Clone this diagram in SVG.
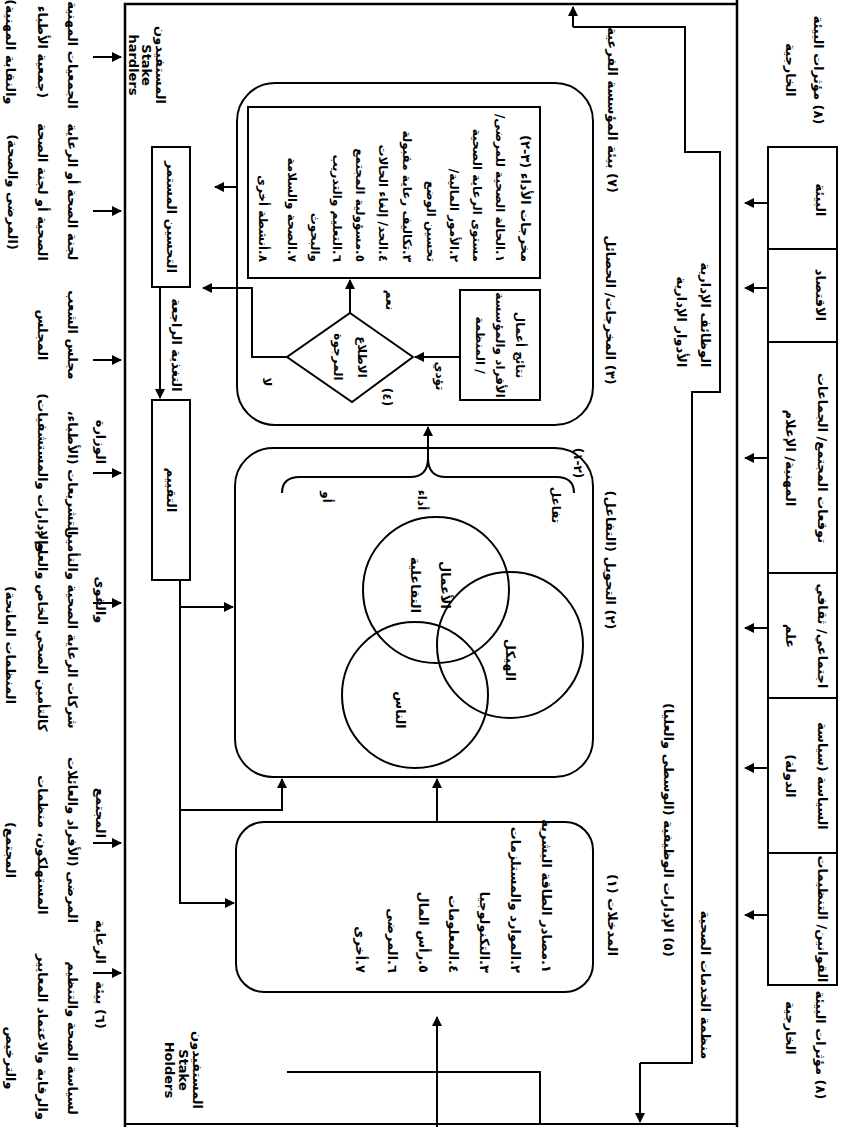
<svg xmlns="http://www.w3.org/2000/svg" width="841" height="1127" viewBox="0 0 841 1127">
<style>
.t{font-family:"DejaVu Sans",sans-serif;font-weight:bold;font-size:13px;fill:#000;dominant-baseline:central;direction:rtl}
.e{direction:ltr}
.s{font-size:12px}
.ln{fill:none;stroke:#000;stroke-width:2}
.th{fill:none;stroke:#000;stroke-width:2.5}
.bx{fill:#fff;stroke:#000;stroke-width:2}
</style>
<defs>
<marker id="ah" viewBox="0 0 10 10" refX="9" refY="5" markerWidth="5" markerHeight="5" orient="auto-start-reverse" markerUnits="strokeWidth">
<path d="M0,0 L10,5 L0,10 z" fill="#000"/>
</marker>
</defs>
<rect width="841" height="1127" fill="#fff"/>

<g id="frame">
<path class="th" d="M125,1127 V4 H737"/>
<path class="th" d="M737,0 V1127"/>
<path class="ln" d="M125,1124 H737"/>
</g>

<g id="external-env">
<rect class="bx" x="768" y="147" width="69" height="838"/>
<path class="ln" d="M768,249 H837 M768,342 H837 M768,573 H837 M768,698 H837 M768,853 H837"/>
<text class="t" transform="translate(818,70) rotate(90)" text-anchor="middle">(٨) مؤثرات البيئة</text>
<text class="t" transform="translate(790,70) rotate(90)" text-anchor="middle">الخارجية</text>
<text class="t" transform="translate(820,1045) rotate(90)" text-anchor="middle">(٨) مؤثرات البيئة</text>
<text class="t" transform="translate(790,1028) rotate(90)" text-anchor="middle">الخارجية</text>
<text class="t" transform="translate(820,200) rotate(90)" text-anchor="middle">البيئة</text>
<text class="t" transform="translate(820,295) rotate(90)" text-anchor="middle">الاقتصاد</text>
<text class="t" transform="translate(822,458) rotate(90)" text-anchor="middle">توقعات المجتمع/ الجماعات</text>
<text class="t" transform="translate(790,458) rotate(90)" text-anchor="middle">المهنية/ الإعلام</text>
<text class="t" transform="translate(822,636) rotate(90)" text-anchor="middle">اجتماعي/ ثقافي</text>
<text class="t" transform="translate(790,636) rotate(90)" text-anchor="middle">علم</text>
<text class="t" transform="translate(822,776) rotate(90)" text-anchor="middle">السياسة (سياسة</text>
<text class="t" transform="translate(790,776) rotate(90)" text-anchor="middle">الدولة)</text>
<text class="t" transform="translate(822,919) rotate(90)" text-anchor="middle">القوانين/ التنظيمات</text>
</g>

<g id="stakeholders">
<text class="t" transform="translate(72,55) rotate(90)" text-anchor="middle">الجمعيات المهنية</text>
<text class="t" transform="translate(42,52) rotate(90)" text-anchor="middle">(جمعية الأطباء</text>
<text class="t" transform="translate(10,52) rotate(90)" text-anchor="middle">والنقابة المهنية)</text>
<text class="t" transform="translate(72,192) rotate(90)" text-anchor="middle">لجنة الصحة أو الرعاية</text>
<text class="t" transform="translate(42,192) rotate(90)" text-anchor="middle">الصحية أو لجنة الصحة</text>
<text class="t" transform="translate(12,192) rotate(90)" text-anchor="middle">(المرضى والصحة)</text>
<text class="t" transform="translate(72,335) rotate(90)" text-anchor="middle">مجلس الشعب</text>
<text class="t" transform="translate(42,335) rotate(90)" text-anchor="middle">المجلس</text>
<text class="t" transform="translate(100,442) rotate(90)" text-anchor="middle">الوزارة</text>
<text class="t" transform="translate(72,473) rotate(90)" text-anchor="middle">التشريعات (الأطباء،</text>
<text class="t" transform="translate(42,473) rotate(90)" text-anchor="middle">والإدارات والمستشفيات)</text>
<text class="t" transform="translate(100,600) rotate(90)" text-anchor="middle">والقوى</text>
<text class="t" transform="translate(72,628) rotate(90)" text-anchor="middle">شركات الرعاية الصحية والتأمين</text>
<text class="t" transform="translate(42,631) rotate(90)" text-anchor="middle">كالتأمين الصحي الخاص والعام -</text>
<text class="t" transform="translate(10,645) rotate(90)" text-anchor="middle">المنظمات المانحة)</text>
<text class="t" transform="translate(100,813) rotate(90)" text-anchor="middle">المجتمع</text>
<text class="t" transform="translate(72,840) rotate(90)" text-anchor="middle">المرضى (الأفراد والعائلات</text>
<text class="t" transform="translate(42,845) rotate(90)" text-anchor="middle">المستهلكون، منظمات</text>
<text class="t" transform="translate(10,850) rotate(90)" text-anchor="middle">المجتمع)</text>
<text class="t" transform="translate(100,942) rotate(90)" text-anchor="middle">الرعاية</text>
<text class="t" transform="translate(100,1005) rotate(90)" text-anchor="middle">(٦) بيئة</text>
<text class="t" transform="translate(72,1038) rotate(90)" text-anchor="middle">لسياسة الصحة والتنظيم</text>
<text class="t" transform="translate(42,1037) rotate(90)" text-anchor="middle">والرقابة والاعتماد المعايير</text>
<text class="t" transform="translate(10,1058) rotate(90)" text-anchor="middle">والترخيص</text>
<text class="t" transform="translate(160,65) rotate(90)" text-anchor="middle">المستفيدون</text>
<text class="t e" transform="translate(146,65) rotate(90)" text-anchor="middle">Stake</text>
<text class="t e" transform="translate(133,65) rotate(90)" text-anchor="middle">hardlers</text>
<text class="t" transform="translate(197,1070) rotate(90)" text-anchor="middle">المستفيدون</text>
<text class="t e" transform="translate(183,1070) rotate(90)" text-anchor="middle">Stake</text>
<text class="t e" transform="translate(169,1070) rotate(90)" text-anchor="middle">Holders</text>
</g>

<g id="organization">
<path class="ln" d="M573,27 H685 V152 H720 V392 H692 V1063 H640"/>
<text class="t" transform="translate(705,315) rotate(90)" text-anchor="middle">الوظائف الإدارية</text>
<text class="t" transform="translate(681,322) rotate(90)" text-anchor="middle">الأدوار الإدارية</text>
<text class="t" transform="translate(668,830) rotate(90)" text-anchor="middle">(٥) الإدارات الوظيفية (الوسطى والعليا)</text>
<text class="t" transform="translate(705,985) rotate(90)" text-anchor="middle">منظمة الخدمات الصحية</text>
<text class="t" transform="translate(612,110) rotate(90)" text-anchor="middle">(٧) بيئة المؤسسة الفرعية</text>
</g>

<g id="inputs">
<rect class="bx" x="236" y="822" width="357" height="170" rx="28"/>
<text class="t" transform="translate(612,915) rotate(90)" text-anchor="middle">المدخلات (١)</text>
<text class="t" transform="translate(546,973) rotate(90)" text-anchor="start">١.مصادر الطاقة البشرية</text>
<text class="t" transform="translate(515,973) rotate(90)" text-anchor="start">٢.الموارد والمستلزمات</text>
<text class="t" transform="translate(484,973) rotate(90)" text-anchor="start">٣.التكنولوجيا</text>
<text class="t" transform="translate(453,973) rotate(90)" text-anchor="start">٤.المعلومات</text>
<text class="t" transform="translate(423,973) rotate(90)" text-anchor="start">٥.رأس المال</text>
<text class="t" transform="translate(392,973) rotate(90)" text-anchor="start">٦.المرضى</text>
<text class="t" transform="translate(360,973) rotate(90)" text-anchor="start">٧.أخرى</text>
</g>

<g id="transformation">
<rect class="bx" x="235" y="448" width="358" height="329" rx="38"/>
<text class="t" transform="translate(610,560) rotate(90)" text-anchor="middle">(٢) التحويل (التفاعل)</text>
<circle class="ln" cx="436" cy="590" r="73"/>
<circle class="ln" cx="415" cy="695" r="73"/>
<circle class="ln" cx="510" cy="645" r="73"/>
<text class="t" transform="translate(445,585) rotate(90)" text-anchor="middle">الأعمال</text>
<text class="t" transform="translate(415,585) rotate(90)" text-anchor="middle">التفاعلية</text>
<text class="t" transform="translate(400,710) rotate(90)" text-anchor="middle">الناس</text>
<text class="t" transform="translate(510,660) rotate(90)" text-anchor="middle">الهيكل</text>
<path class="ln" d="M282,493 Q282,477 300,477 H410 Q428,477 428,458 Q428,477 446,477 H556 Q574,477 574,493"/>
<text class="t s" transform="translate(578,463) rotate(90)" text-anchor="middle">(٢-١)</text>
<text class="t s" transform="translate(556,505) rotate(90)" text-anchor="middle">تفاعل</text>
<text class="t s" transform="translate(422,500) rotate(90)" text-anchor="middle">أداء</text>
<text class="t s" transform="translate(327,497) rotate(90)" text-anchor="middle">أو</text>
</g>

<g id="outputs">
<rect class="bx" x="237" y="83" width="356" height="342" rx="38"/>
<text class="t" transform="translate(610,310) rotate(90)" text-anchor="middle">(٣) المخرجات/ الحصائل</text>
<rect class="bx" x="248" y="107" width="292" height="171"/>
<text class="t" transform="translate(525,262) rotate(90)" text-anchor="start">مخرجات الأداء (٣-٢)</text>
<text class="t s" transform="translate(500,262) rotate(90)" text-anchor="start">١.الحالة الصحية للمرضى/</text>
<text class="t s" transform="translate(477,262) rotate(90)" text-anchor="start">مستوى الرعاية الصحية</text>
<text class="t s" transform="translate(454,262) rotate(90)" text-anchor="start">٢.الأمور المالية/</text>
<text class="t s" transform="translate(431,262) rotate(90)" text-anchor="start">تحسين الوضع</text>
<text class="t s" transform="translate(407,262) rotate(90)" text-anchor="start">٣.تكاليف رعاية مقبولة</text>
<text class="t s" transform="translate(383,262) rotate(90)" text-anchor="start">٤.الحد/ إلغاء الحالات</text>
<text class="t s" transform="translate(360,262) rotate(90)" text-anchor="start">٥.مسؤولية المجتمع</text>
<text class="t s" transform="translate(337,262) rotate(90)" text-anchor="start">٦.التعليم والتدريب</text>
<text class="t s" transform="translate(315,262) rotate(90)" text-anchor="start">والبحوث</text>
<text class="t s" transform="translate(292,262) rotate(90)" text-anchor="start">٧.الصحة والسلامة</text>
<text class="t s" transform="translate(263,262) rotate(90)" text-anchor="start">٨.أنشطة أخرى</text>
<rect class="bx" x="460" y="290" width="80" height="110"/>
<text class="t s" transform="translate(520,345) rotate(90)" text-anchor="middle">نتائج أعمال</text>
<text class="t s" transform="translate(500,345) rotate(90)" text-anchor="middle">الأفراد والمؤسسة</text>
<text class="t s" transform="translate(480,345) rotate(90)" text-anchor="middle">/ المنظمة</text>
<path class="bx" d="M350,313 L413,357 L352,402 L287,357 Z"/>
<text class="t s" transform="translate(362,357) rotate(90)" text-anchor="middle">الاطلاع</text>
<text class="t s" transform="translate(338,357) rotate(90)" text-anchor="middle">المرجوة</text>
<text class="t s" transform="translate(387,397) rotate(90)" text-anchor="middle">(٤)</text>
<text class="t s" transform="translate(267,382) rotate(90)" text-anchor="middle">لا</text>
<text class="t s" transform="translate(390,300) rotate(90)" text-anchor="middle">نعم</text>
<text class="t s" transform="translate(440,376) rotate(90)" text-anchor="middle">تؤدي</text>
</g>

<g id="improvement">
<rect class="bx" x="152" y="147" width="38" height="140"/>
<text class="t" transform="translate(171,217) rotate(90)" text-anchor="middle">التحسين المستمر</text>
</g>
<g id="evaluation">
<rect class="bx" x="152" y="400" width="38" height="180"/>
<text class="t" transform="translate(171,490) rotate(90)" text-anchor="middle">التقييم</text>
<text class="t" transform="translate(176,345) rotate(90)" text-anchor="middle">التغذية الراجعة</text>
</g>

<g id="connectors">
<path class="ln" d="M768,203 H745" marker-end="url(#ah)"/>
<path class="ln" d="M768,288 H745" marker-end="url(#ah)"/>
<path class="ln" d="M768,458 H745" marker-end="url(#ah)"/>
<path class="ln" d="M768,628 H745" marker-end="url(#ah)"/>
<path class="ln" d="M768,768 H745" marker-end="url(#ah)"/>
<path class="ln" d="M768,915 H745" marker-end="url(#ah)"/>
<path class="ln" d="M93,57 H121" marker-end="url(#ah)"/>
<path class="ln" d="M93,211 H121" marker-end="url(#ah)"/>
<path class="ln" d="M93,360 H121" marker-end="url(#ah)"/>
<path class="ln" d="M93,473 H121" marker-end="url(#ah)"/>
<path class="ln" d="M93,603 H121" marker-end="url(#ah)"/>
<path class="ln" d="M93,843 H121" marker-end="url(#ah)"/>
<path class="ln" d="M93,973 H121" marker-end="url(#ah)"/>
<path class="ln" d="M573,27 V7" marker-end="url(#ah)"/>
<path class="ln" d="M640,1063 V1122" marker-end="url(#ah)"/>
<path class="ln" d="M437,1127 V1017" marker-end="url(#ah)"/>
<path class="ln" d="M287,1072 H540 V1124"/>
<path class="ln" d="M428,458 V427" marker-end="url(#ah)"/>
<path class="ln" d="M237,187 H215" marker-end="url(#ah)"/>
<path class="ln" d="M287,357 H252 V288 H203" marker-end="url(#ah)"/>
<path class="ln" d="M350,313 V280" marker-end="url(#ah)"/>
<path class="ln" d="M460,357 H415" marker-end="url(#ah)"/>
<path class="ln" d="M160,287 V398" marker-end="url(#ah)"/>
<path class="ln" d="M180,580 V903 H234" marker-end="url(#ah)"/>
<path class="ln" d="M180,810 H282 V779" marker-end="url(#ah)"/>
<path class="ln" d="M180,607 H233" marker-end="url(#ah)"/>
<path class="ln" d="M437,822 V779" marker-end="url(#ah)"/>
</g>
</svg>
